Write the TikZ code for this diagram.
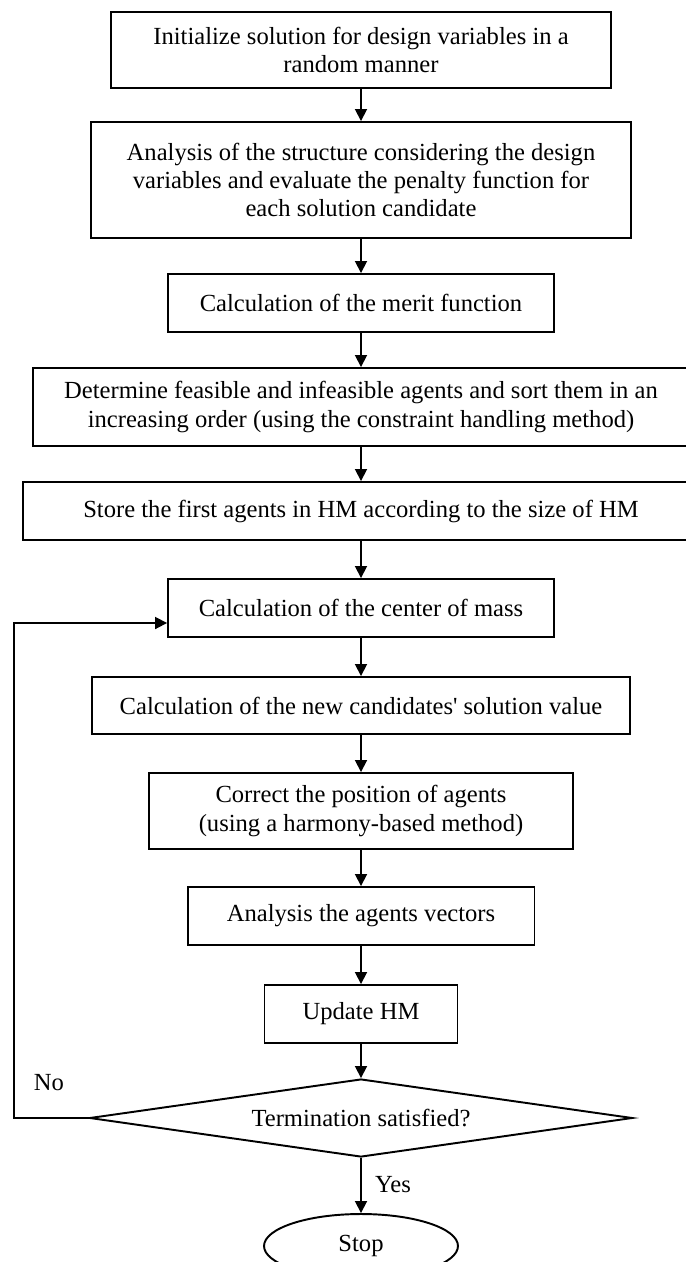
\documentclass[tikz,border=0pt]{standalone}
\usepackage{fontspec}
\setmainfont{Liberation Serif}
\usepackage{tikz}
\usepackage{xcolor}
\usetikzlibrary{arrows.meta,positioning,shapes.geometric,calc}
\definecolor{ink}{HTML}{000000}
\tikzset{
  card/.style={draw=ink,fill=white,line width=1.1pt,align=center,
               inner sep=2pt,font=\fontsize{14}{16}\selectfont},
  query/.style={diamond,draw=ink,fill=white,line width=1.1pt,aspect=7,
                inner sep=0pt,font=\fontsize{14}{16}\selectfont},
  terminal/.style={ellipse,draw=ink,fill=white,line width=1.1pt,
                   inner sep=0pt,font=\fontsize{14}{16}\selectfont},
  arr/.style={-{Triangle[length=6.8pt,width=6.8pt]},line width=1pt,
              draw=ink},
  tag/.style={inner sep=0pt,font=\fontsize{14}{16}\selectfont}
}
\begin{document}
\begin{tikzpicture}[x=0.02cm,y=-0.02cm]
    \path[use as bounding box] (0,0) rectangle (686,1262);
    \clip (0,0) rectangle (686,1262);

    \node[card,minimum width=10.02cm,minimum height=1.52cm] (init) at (361,50)
      {Initialize solution for design variables in a\\random manner};
    \node[card,minimum width=10.80cm,minimum height=2.32cm] (analysis) at (361,180)
      {Analysis of the structure considering the design\\variables and evaluate the penalty function for\\each solution candidate};
    \node[card,minimum width=7.72cm,minimum height=1.16cm] (merit) at (361,303)
      {Calculation of the merit function};
    \node[card,minimum width=13.12cm,minimum height=1.56cm] (sorting) at (361,407)
      {Determine feasible and infeasible agents and sort them in an\\increasing order (using the constraint handling method)};
    \node[card,minimum width=13.52cm,minimum height=1.16cm] (store) at (361,511)
      {Store the first agents in HM according to the size of HM};
    \node[card,minimum width=7.72cm,minimum height=1.16cm] (mass) at (361,608)
      {Calculation of the center of mass};
    \node[card,minimum width=10.78cm,minimum height=1.14cm] (newsol) at (361,705.5)
      {Calculation of the new candidates\textquotesingle{} solution value};
    \node[card,minimum width=8.48cm,minimum height=1.52cm] (correct) at (361,811)
      {Correct the position of agents\\(using a harmony-based method)};
    \node[card,minimum width=6.94cm,minimum height=1.16cm] (vectors) at (361,916)
      {Analysis the agents vectors};
    \node[card,minimum width=3.86cm,minimum height=1.16cm] (update) at (361,1014)
      {Update HM};
    \node[query,minimum width=10.86cm,minimum height=1.56cm] (stopcheck) at (361,1118)
      {Termination satisfied?};
    \node[terminal,minimum width=3.88cm,minimum height=1.28cm] (stop) at (361,1246)
      {Stop};

    \draw[arr] (init) -- (analysis);
    \draw[arr] (analysis) -- (merit);
    \draw[arr] (merit) -- (sorting);
    \draw[arr] (sorting) -- (store);
    \draw[arr] (store) -- (mass);
    \draw[arr] (mass) -- (newsol);
    \draw[arr] (newsol) -- (correct);
    \draw[arr] (correct) -- (vectors);
    \draw[arr] (vectors) -- (update);
    \draw[arr] (update) -- (stopcheck);
    \draw[arr] (stopcheck) -- (stop);

    % loop back
    \coordinate (loopbot) at (14,1118);
    \coordinate (looptop) at (14,623);
    \draw[arr] (stopcheck.west) -- (loopbot) -- (looptop) -- (looptop -| mass.west);

    \node[tag] (no) at (49,1083) {No};
    \node[tag] (yes) at (393,1185) {Yes};
  \end{tikzpicture}
\end{document}
